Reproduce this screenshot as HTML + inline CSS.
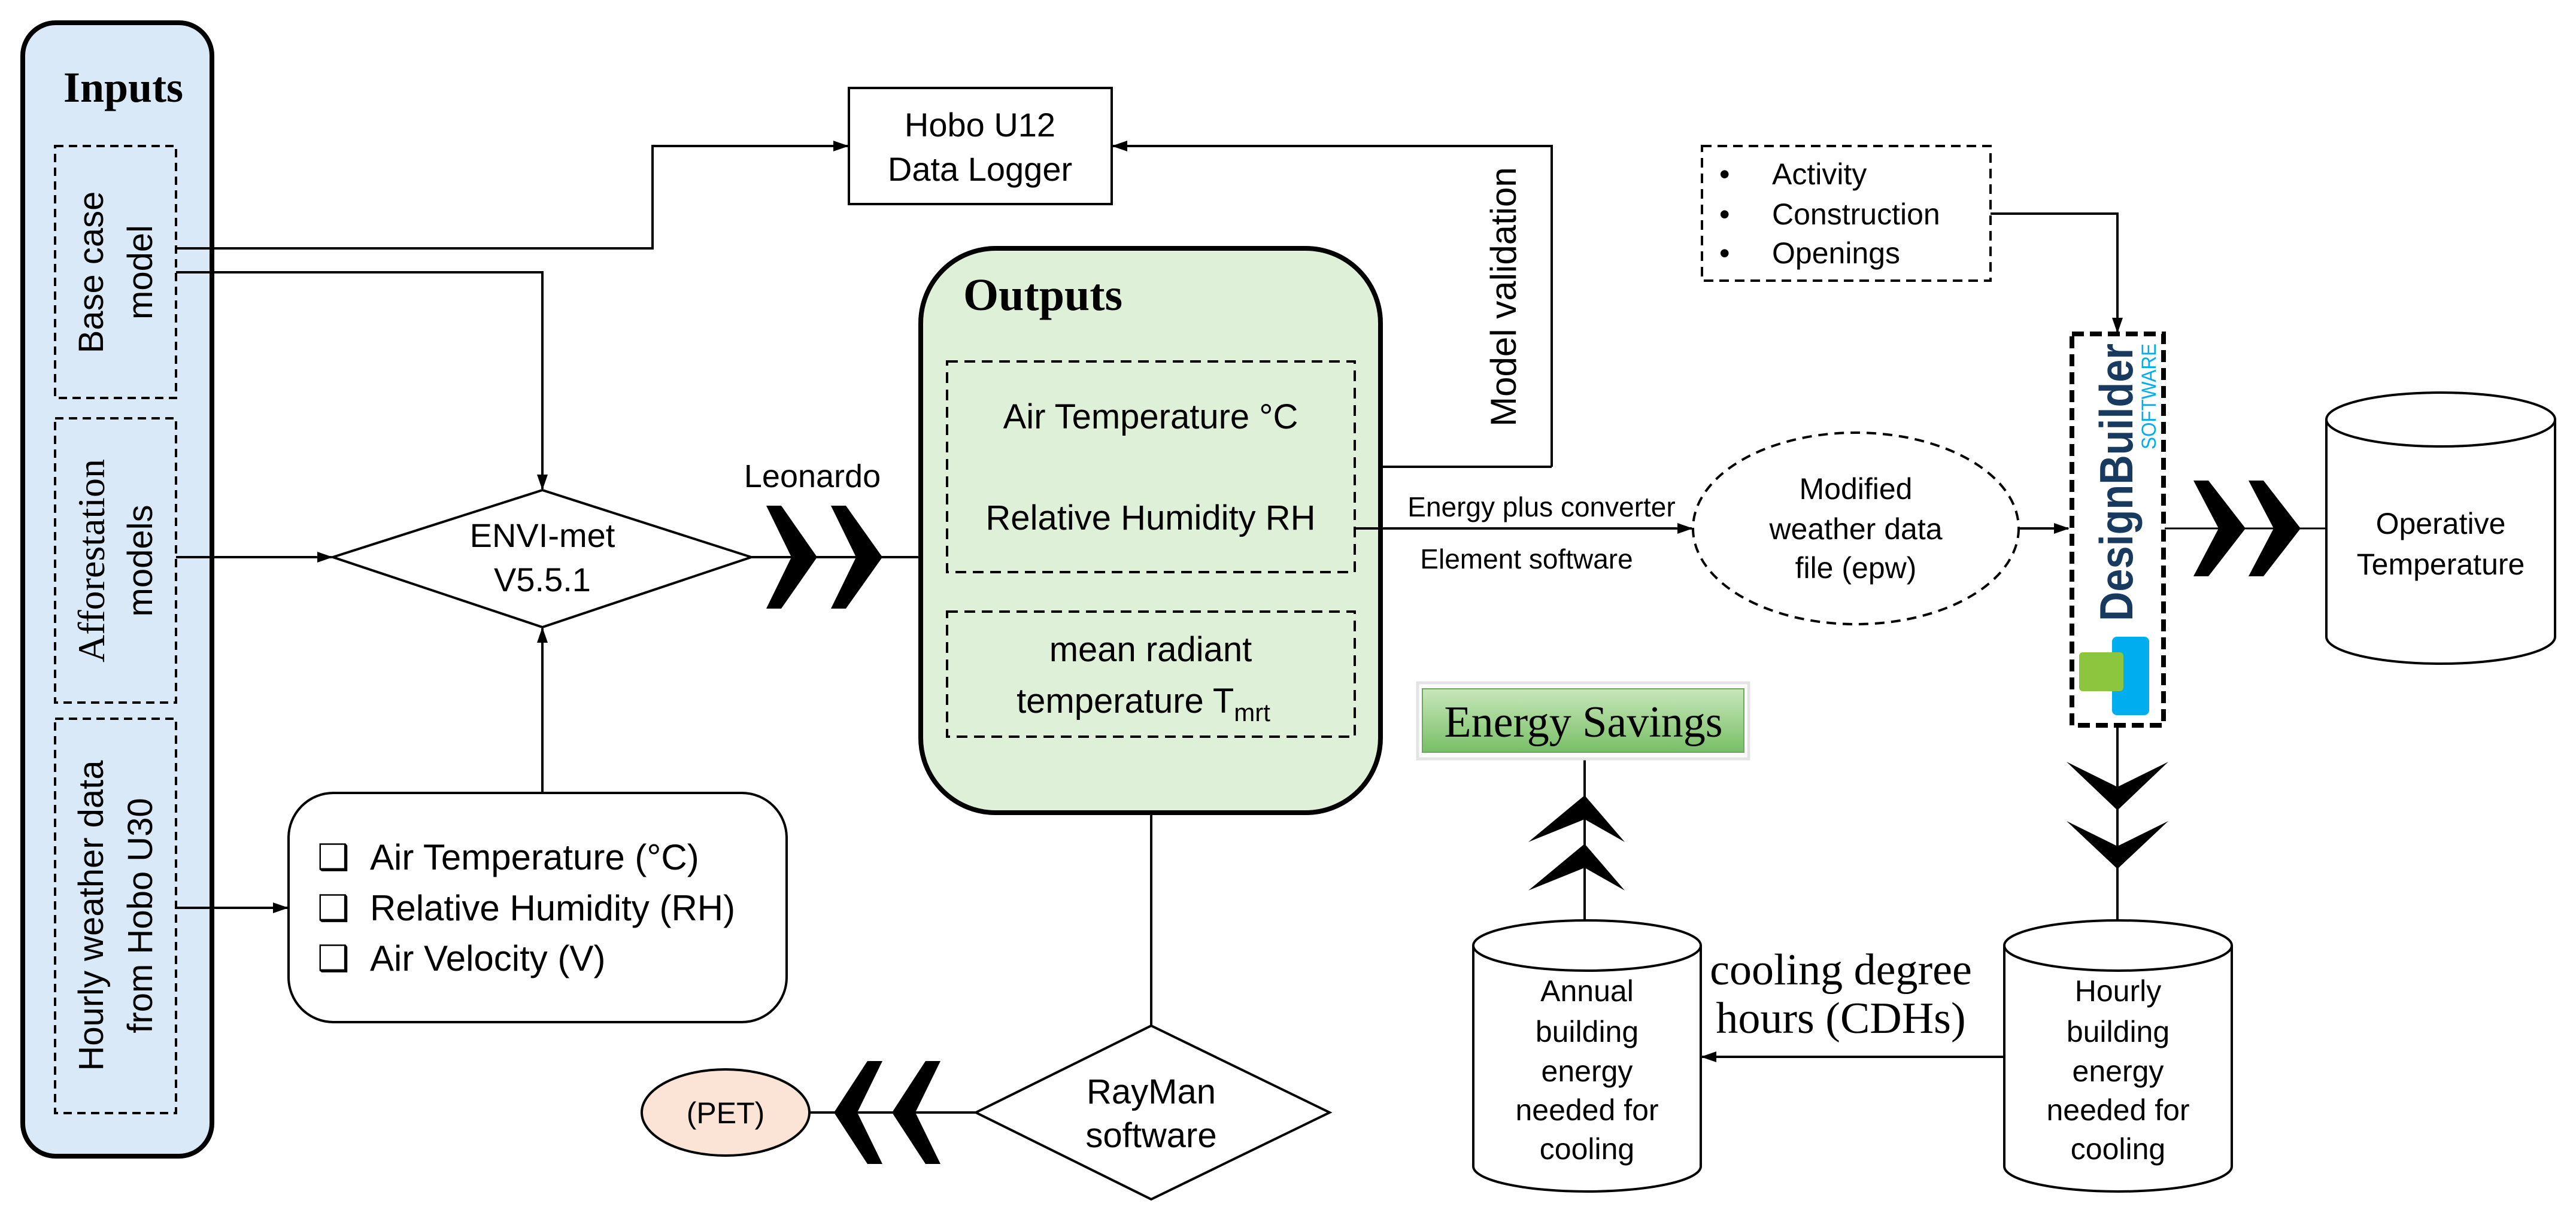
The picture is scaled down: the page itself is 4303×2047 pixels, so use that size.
<!DOCTYPE html>
<html><head><meta charset="utf-8"><style>
html,body{margin:0;padding:0;background:#fff;}
svg{display:block;}
text{font-family:"Liberation Sans",sans-serif;fill:#000;}
.s{font-family:"Liberation Serif",serif;}
</style></head><body>
<svg width="4303" height="2047" viewBox="0 0 4303 2047" xmlns="http://www.w3.org/2000/svg">
<defs>
<marker id="b" markerWidth="26" markerHeight="26" refX="24" refY="13" orient="auto" markerUnits="userSpaceOnUse" viewBox="0 0 26 26"><path d="M0,4 L26,13 L0,22 z" fill="#000"/></marker>
<linearGradient id="g" x1="0" y1="0" x2="0" y2="1"><stop offset="0" stop-color="#c8e7ba"/><stop offset="1" stop-color="#78bf66"/></linearGradient>
</defs>

<!-- Inputs panel -->
<rect x="38" y="38" width="316" height="1894" rx="55" fill="#dae9f7" stroke="#000" stroke-width="8"/>
<text x="206" y="170" class="s" font-size="72" font-weight="bold" text-anchor="middle">Inputs</text>
<g fill="none" stroke="#000" stroke-width="4" stroke-dasharray="14,9">
<rect x="92" y="244" width="202" height="421"/>
<rect x="92" y="699" width="202" height="475"/>
<rect x="92" y="1201" width="202" height="659"/>
</g>
<text transform="translate(172,455) rotate(-90)" font-size="58" text-anchor="middle">Base case</text>
<text transform="translate(254,455) rotate(-90)" font-size="58" text-anchor="middle">model</text>
<text transform="translate(174,937) rotate(-90)" class="s" font-size="64" text-anchor="middle">Afforestation</text>
<text transform="translate(254,937) rotate(-90)" font-size="58" text-anchor="middle">models</text>
<text transform="translate(172,1530) rotate(-90)" font-size="58" text-anchor="middle">Hourly weather data</text>
<text transform="translate(254,1530) rotate(-90)" font-size="58" text-anchor="middle">from Hobo U30</text>

<!-- connectors left -->
<g fill="none" stroke="#000" stroke-width="4">
<polyline points="294,415 1090,415 1090,244 1416,244" marker-end="url(#b)"/>
<polyline points="294,455 906,455 906,817" marker-end="url(#b)"/>
<line x1="294" y1="931" x2="554" y2="931" marker-end="url(#b)"/>
<line x1="294" y1="1517" x2="480" y2="1517" marker-end="url(#b)"/>
<line x1="906" y1="1325" x2="906" y2="1050" marker-end="url(#b)"/>
<line x1="1255" y1="931" x2="1538" y2="931"/>
</g>

<!-- ENVI-met diamond -->
<polygon points="556,931 906,819 1255,931 906,1048" fill="#fff" stroke="#000" stroke-width="4"/>
<text x="906" y="914" font-size="56" text-anchor="middle">ENVI-met</text>
<text x="906" y="988" font-size="56" text-anchor="middle">V5.5.1</text>

<!-- params box -->
<rect x="482" y="1325" width="832" height="383" rx="75" fill="#fff" stroke="#000" stroke-width="4"/>
<g font-size="60">
<text x="530" y="1453">❑</text><text x="618" y="1453">Air Temperature (°C)</text>
<text x="530" y="1538">❑</text><text x="618" y="1538">Relative Humidity (RH)</text>
<text x="530" y="1622">❑</text><text x="618" y="1622">Air Velocity (V)</text>
</g>

<!-- Leonardo + chevrons -->
<text x="1357" y="814" font-size="54" text-anchor="middle">Leonardo</text>
<polygon points="1280,845 1305,845 1365,931 1305,1017 1280,1017 1322,931" fill="#000"/>
<polygon points="1388,845 1413,845 1474,931 1413,1017 1388,1017 1430,931" fill="#000"/>

<!-- Hobo logger -->
<rect x="1418" y="147" width="439" height="194" fill="#fff" stroke="#000" stroke-width="4"/>
<text x="1637" y="228" font-size="56" text-anchor="middle">Hobo U12</text>
<text x="1637" y="302" font-size="56" text-anchor="middle">Data Logger</text>

<!-- Model validation -->
<polyline points="2592,780 2592,244 1859,244" fill="none" stroke="#000" stroke-width="4" marker-end="url(#b)"/>
<line x1="2592" y1="780" x2="2265" y2="780" stroke="#000" stroke-width="4" marker-end="url(#b)"/>
<text transform="translate(2532,496) rotate(-90)" font-size="60" text-anchor="middle">Model validation</text>

<!-- Outputs -->
<rect x="1538" y="415" width="768" height="943" rx="125" fill="#dff0d9" stroke="#000" stroke-width="8"/>
<text x="1609" y="518" class="s" font-size="76" font-weight="bold">Outputs</text>
<g fill="none" stroke="#000" stroke-width="4" stroke-dasharray="18,11">
<rect x="1582" y="604" width="681" height="352"/>
<rect x="1582" y="1022" width="681" height="209"/>
</g>
<g font-size="58" text-anchor="middle">
<text x="1922" y="716">Air Temperature °C</text>
<text x="1922" y="885">Relative Humidity RH</text>
<text x="1922" y="1105">mean radiant</text>
<text x="1910" y="1191">temperature T<tspan font-size="42" dy="14">mrt</tspan></text>
</g>

<!-- outputs -> ellipse -->
<line x1="2263" y1="883" x2="2826" y2="883" stroke="#000" stroke-width="4" marker-end="url(#b)"/>
<text x="2575" y="863" font-size="46" text-anchor="middle">Energy plus converter</text>
<text x="2550" y="950" font-size="46" text-anchor="middle">Element software</text>

<!-- Rayman -->
<line x1="1923" y1="1358" x2="1923" y2="1714" stroke="#000" stroke-width="4"/>
<polygon points="1630,1859 1923,1714 2221,1859 1923,2004" fill="#fff" stroke="#000" stroke-width="4"/>
<text x="1923" y="1844" font-size="58" text-anchor="middle">RayMan</text>
<text x="1923" y="1917" font-size="58" text-anchor="middle">software</text>
<line x1="1630" y1="1859" x2="1352" y2="1859" stroke="#000" stroke-width="4"/>
<polygon points="1474,1773 1449,1773 1393,1859 1449,1945 1474,1945 1432,1859" fill="#000"/>
<polygon points="1571,1773 1546,1773 1490,1859 1546,1945 1571,1945 1529,1859" fill="#000"/>
<ellipse cx="1212" cy="1859" rx="140" ry="72" fill="#fbe3d5" stroke="#000" stroke-width="4"/>
<text x="1212" y="1877" font-size="50" text-anchor="middle">(PET)</text>

<!-- Activity box -->
<rect x="2843" y="244" width="482" height="225" fill="none" stroke="#000" stroke-width="4" stroke-dasharray="16,10"/>
<g font-size="50">
<text x="2872" y="308">•</text><text x="2960" y="308">Activity</text>
<text x="2872" y="375">•</text><text x="2960" y="375">Construction</text>
<text x="2872" y="440">•</text><text x="2960" y="440">Openings</text>
</g>
<polyline points="3325,357 3537,357 3537,555" fill="none" stroke="#000" stroke-width="4" marker-end="url(#b)"/>

<!-- Modified weather ellipse -->
<ellipse cx="3100" cy="883" rx="272" ry="160" fill="#fff" stroke="#000" stroke-width="4" stroke-dasharray="16,11"/>
<g font-size="50" text-anchor="middle">
<text x="3100" y="834">Modified</text>
<text x="3100" y="901">weather data</text>
<text x="3100" y="966">file (epw)</text>
</g>
<line x1="3373" y1="883" x2="3455" y2="883" stroke="#000" stroke-width="4" marker-end="url(#b)"/>

<!-- DesignBuilder -->
<rect x="3461" y="558" width="153" height="654" fill="#fff" stroke="#000" stroke-width="8" stroke-dasharray="20,10"/>
<text transform="translate(3562,1038) rotate(-90)" font-size="78" font-weight="bold" textLength="464" lengthAdjust="spacingAndGlyphs" style="fill:#173a5e">DesignBuilder</text>
<text transform="translate(3601,751) rotate(-90)" font-size="34" textLength="177" lengthAdjust="spacingAndGlyphs" style="fill:#00aeef">SOFTWARE</text>
<rect x="3528" y="1064" width="62" height="131" rx="8" fill="#00aeef"/>
<rect x="3473" y="1090" width="74" height="65" rx="6" fill="#8cc63f"/>
<line x1="3616" y1="883" x2="3886" y2="883" stroke="#000" stroke-width="3"/>
<polygon points="3664,803 3689,803 3751,883 3689,963 3664,963 3706,883" fill="#000"/>
<polygon points="3756,803 3781,803 3843,883 3781,963 3756,963 3798,883" fill="#000"/>

<!-- Operative cylinder -->
<path d="M3886,701 L3886,1064 A191,45 0 0 0 4268,1064 L4268,701" fill="#fff" stroke="#000" stroke-width="4"/>
<ellipse cx="4077" cy="701" rx="191" ry="45" fill="#fff" stroke="#000" stroke-width="4"/>
<text x="4077" y="892" font-size="50" text-anchor="middle">Operative</text>
<text x="4077" y="960" font-size="50" text-anchor="middle">Temperature</text>

<!-- down chevrons -->
<line x1="3537" y1="1212" x2="3537" y2="1540" stroke="#000" stroke-width="4"/>
<polygon points="3452,1273 3537,1315 3622,1273 3537,1354" fill="#000"/>
<polygon points="3452,1372 3537,1414 3622,1372 3537,1452" fill="#000"/>

<!-- Hourly cylinder -->
<path d="M3348,1580 L3348,1949 A190,42 0 0 0 3728,1949 L3728,1580" fill="#fff" stroke="#000" stroke-width="4"/>
<ellipse cx="3538" cy="1580" rx="190" ry="42" fill="#fff" stroke="#000" stroke-width="4"/>
<g font-size="50" text-anchor="middle">
<text x="3538" y="1673">Hourly</text>
<text x="3538" y="1741">building</text>
<text x="3538" y="1807">energy</text>
<text x="3538" y="1872">needed for</text>
<text x="3538" y="1937">cooling</text>
</g>

<!-- arrow to annual -->
<line x1="3348" y1="1766" x2="2843" y2="1766" stroke="#000" stroke-width="4" marker-end="url(#b)"/>
<text x="3075" y="1645" class="s" font-size="74" text-anchor="middle">cooling degree</text>
<text x="3075" y="1726" class="s" font-size="74" text-anchor="middle">hours (CDHs)</text>

<!-- Annual cylinder -->
<path d="M2461,1580 L2461,1949 A190,42 0 0 0 2841,1949 L2841,1580" fill="#fff" stroke="#000" stroke-width="4"/>
<ellipse cx="2651" cy="1580" rx="190" ry="42" fill="#fff" stroke="#000" stroke-width="4"/>
<g font-size="50" text-anchor="middle">
<text x="2651" y="1673">Annual</text>
<text x="2651" y="1741">building</text>
<text x="2651" y="1807">energy</text>
<text x="2651" y="1872">needed for</text>
<text x="2651" y="1937">cooling</text>
</g>

<!-- up chevrons -->
<line x1="2647" y1="1267" x2="2647" y2="1540" stroke="#000" stroke-width="4"/>
<polygon points="2553,1407 2647,1369 2714,1407 2647,1329" fill="#000"/>
<polygon points="2553,1488 2647,1450 2714,1488 2647,1410" fill="#000"/>

<!-- Energy Savings -->
<rect x="2368" y="1141" width="553" height="127" fill="#fff" stroke="#e4e4e4" stroke-width="5"/>
<rect x="2376" y="1151" width="537" height="106" fill="url(#g)" stroke="#6aa95a" stroke-width="2"/>
<text x="2645" y="1231" class="s" font-size="74" text-anchor="middle">Energy Savings</text>
</svg>
</body></html>
